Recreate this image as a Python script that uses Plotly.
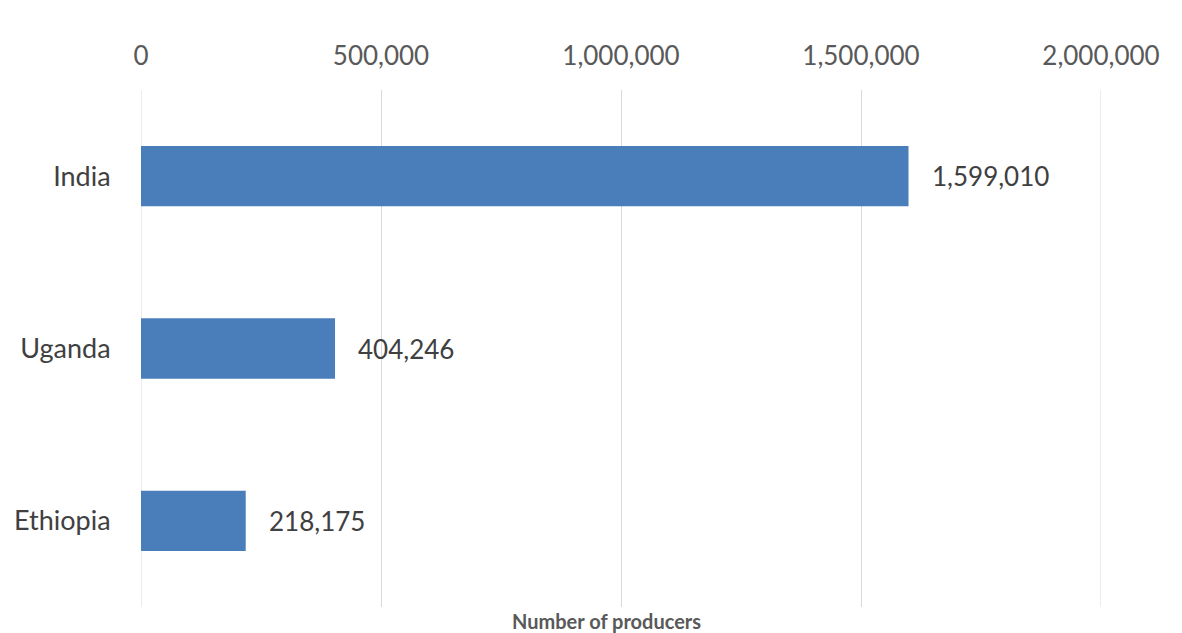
import plotly.graph_objects as go

countries = ["India", "Uganda", "Ethiopia"]
producers = [1599010, 404246, 218175]
tick_vals = [0, 500000, 1000000, 1500000, 2000000]
tick_text = ["0", "500,000", "1,000,000", "1,500,000", "2,000,000"]
axis_title = "Number of producers"

FONT = "Lato"
GRID = "#d9d9d9"
fig = go.Figure()
fig.add_trace(go.Bar(
    x=producers, y=countries, orientation="h",
    marker=dict(color="#4a7ebb", line=dict(width=0)),
    hoverinfo="skip",
))

for c, v in zip(countries, producers):
    fig.add_annotation(x=v, y=c, xref="x", yref="y", text=f"{v:,}",
                       showarrow=False, xanchor="left", yanchor="middle",
                       xshift=21, font=dict(family=FONT, size=26, color="#404040"))

fig.add_annotation(x=0.485, y=0, xref="paper", yref="paper", text=f"<b>{axis_title}</b>",
                   showarrow=False, xanchor="center", yanchor="top", yshift=0,
                   font=dict(family=FONT, size=20, color="#595959"))

# gridlines at the plot edges (hidden by plotly otherwise)
for xv in (tick_vals[0], tick_vals[-1]):
    fig.add_shape(type="line", xref="x", yref="paper", x0=xv, x1=xv, y0=0, y1=1,
                  line=dict(color=GRID, width=1), layer="below")

fig.update_layout(
    width=1182, height=633,
    margin=dict(l=141, r=81, t=90, b=26, autoexpand=False),
    paper_bgcolor="white", plot_bgcolor="white",
    showlegend=False, bargap=0.65,
    xaxis=dict(side="top", range=[0, 2000000], tickvals=tick_vals, ticktext=tick_text,
               showgrid=True, gridcolor=GRID, gridwidth=1, zeroline=False, automargin=False,
               showline=False, ticks="outside", ticklen=14, tickcolor="rgba(0,0,0,0)",
               tickfont=dict(family=FONT, size=26, color="#595959")),
    yaxis=dict(categoryorder="array", categoryarray=countries, autorange="reversed",
               showgrid=False, zeroline=False, showline=False, automargin=False,
               ticks="outside", ticklen=24, tickcolor="rgba(0,0,0,0)",
               tickfont=dict(family=FONT, size=27, color="#404040")),
)
fig.write_html("out.html")
